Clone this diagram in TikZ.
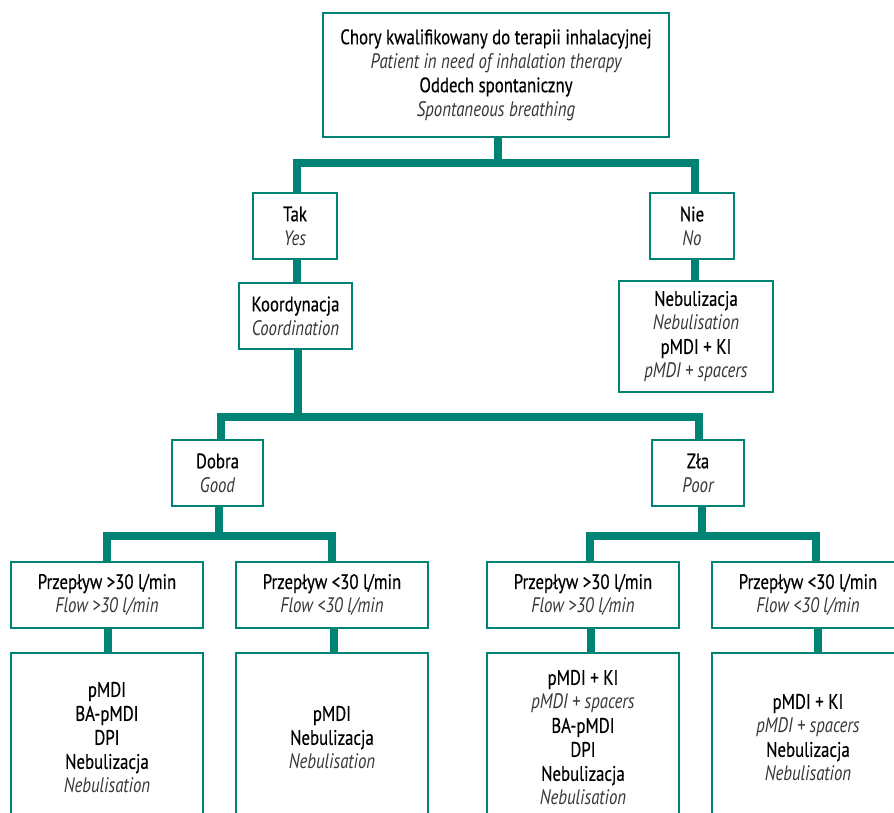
\documentclass[tikz,border=0pt]{standalone}
\usepackage{fontspec}
\setmainfont{PT Sans}[FakeStretch=0.8]
\newfontfamily\upfont{PT Sans}[FakeStretch=0.8, FakeBold=0.4]
\usetikzlibrary{backgrounds}
\definecolor{teal}{RGB}{0,131,116}
\definecolor{itgray}{RGB}{55,55,55}
\newcommand\pl[1]{{\upfont\color{black}#1}}
\newcommand\en[1]{{\itshape\color{itgray}#1}}
\tikzset{
  box/.style={draw=teal, line width=1.5pt, fill=white, inner sep=0pt, align=center,
              font=\fontsize{21}{24}\selectfont},
  conn/.style={draw=teal, line width=8pt, line join=miter},
}
\begin{document}
\begin{tikzpicture}[x=1pt,y=-1pt]
\useasboundingbox (0,0) rectangle (894,813);
% level 0
\node[box, minimum width=346pt, minimum height=124pt] (top) at (496,75)
  {\pl{Chory kwalifikowany do terapii inhalacyjnej}\\ \en{Patient in need of inhalation therapy}\\ \pl{Oddech spontaniczny}\\ \en{Spontaneous breathing}};
% level 1
\node[box, minimum width=84pt, minimum height=66pt] (tak) at (295,226) {\pl{Tak}\\ \en{Yes}};
\node[box, minimum width=84pt, minimum height=66pt] (nie) at (692,226) {\pl{Nie}\\ \en{No}};
% level 2
\node[box, minimum width=113pt, minimum height=66pt] (koord) at (295.5,316) {\pl{Koordynacja}\\ \en{Coordination}};
\node[box, minimum width=154pt, minimum height=111pt] (nebul) at (696,336.5)
  {\pl{Nebulizacja}\\ \en{Nebulisation}\\ \pl{pMDI + KI}\\ \en{pMDI + spacers}};
% level 3
\node[box, minimum width=91pt, minimum height=66pt] (dobra) at (217.5,473) {\pl{Dobra}\\ \en{Good}};
\node[box, minimum width=92pt, minimum height=66pt] (zla) at (698,473) {\pl{Zła}\\ \en{Poor}};
% level 4
\node[box, minimum width=192pt, minimum height=66pt] (f1) at (107,595) {\pl{Przepływ >30 l/min}\\ \en{Flow >30 l/min}};
\node[box, minimum width=192pt, minimum height=66pt] (f2) at (332,595) {\pl{Przepływ <30 l/min}\\ \en{Flow <30 l/min}};
\node[box, minimum width=192pt, minimum height=66pt] (f3) at (583,595) {\pl{Przepływ >30 l/min}\\ \en{Flow >30 l/min}};
\node[box, minimum width=192pt, minimum height=66pt] (f4) at (808,595) {\pl{Przepływ <30 l/min}\\ \en{Flow <30 l/min}};
% level 5
\node[box, minimum width=192pt, minimum height=169pt] (r1) at (107,737.5)
  {\pl{pMDI}\\ \pl{BA-pMDI}\\ \pl{DPI}\\ \pl{Nebulizacja}\\ \en{Nebulisation}};
\node[box, minimum width=192pt, minimum height=169pt] (r2) at (332,737.5)
  {\pl{pMDI}\\ \pl{Nebulizacja}\\ \en{Nebulisation}};
\node[box, minimum width=192pt, minimum height=169pt] (r3) at (583,737.5)
  {\pl{pMDI + KI}\\ \en{pMDI + spacers}\\ \pl{BA-pMDI}\\ \pl{DPI}\\ \pl{Nebulizacja}\\ \en{Nebulisation}};
\node[box, minimum width=192pt, minimum height=169pt] (r4) at (808,737.5)
  {\pl{pMDI + KI}\\ \en{pMDI + spacers}\\ \pl{Nebulizacja}\\ \en{Nebulisation}};
% junctions
\coordinate (j1) at (498,163.5);
\coordinate (j2) at (298,416.5);
\coordinate (j3) at (218.5,535.5);
\coordinate (j4) at (702,535.5);
\begin{scope}[on background layer]
  \draw[conn] (top.south -| j1) -- (j1);
  \draw[conn] ([xshift=2pt]tak.north) |- (j1) -| ([xshift=3pt]nie.north);
  \draw[conn] ([xshift=2pt]tak.south) -- ([xshift=1.5pt]koord.north);
  \draw[conn] ([xshift=3pt]nie.south) -- ([xshift=-1pt]nebul.north);
  \draw[conn] (koord.south -| j2) -- (j2);
  \draw[conn] ([xshift=3pt]dobra.north) |- (j2) -| ([xshift=1pt]zla.north);
  \draw[conn] (dobra.south -| j3) -- (j3);
  \draw[conn] (f1.north) |- (j3) -| (f2.north);
  \draw[conn] (zla.south -| j4) -- (j4);
  \draw[conn] ([xshift=7pt]f3.north) |- (j4) -| ([xshift=7.5pt]f4.north);
  \draw[conn] ([xshift=1pt]f1.south) -- ([xshift=1pt]r1.north);
  \draw[conn] ([xshift=2pt]f2.south) -- ([xshift=2pt]r2.north);
  \draw[conn] ([xshift=8pt]f3.south) -- ([xshift=8pt]r3.north);
  \draw[conn] ([xshift=10pt]f4.south) -- ([xshift=10pt]r4.north);
\end{scope}
\end{tikzpicture}
\end{document}
